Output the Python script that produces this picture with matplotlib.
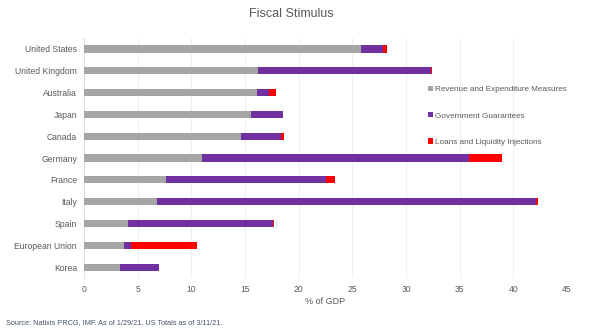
import matplotlib
matplotlib.use("Agg")
import matplotlib.pyplot as plt
import numpy as np

plt.rcParams["font.family"] = ["Liberation Sans", "DejaVu Sans"]

countries = [
    "United States", "United Kingdom", "Australia", "Japan", "Canada",
    "Germany", "France", "Italy", "Spain", "European Union", "Korea",
]
revenue = [25.8, 16.2, 16.1, 15.6, 14.6, 11.0, 7.6, 6.8, 4.1, 3.7, 3.4]
guarantees = [2.1, 16.1, 1.1, 2.9, 3.8, 24.9, 14.9, 35.3, 13.5, 0.7, 3.6]
loans = [0.3, 0.1, 0.7, 0.0, 0.2, 3.0, 0.9, 0.2, 0.1, 6.1, 0.0]

GRAY = "#A5A5A5"
PURPLE = "#7030A0"
RED = "#FF0000"
TEXT = "#595959"

fig = plt.figure(figsize=(6.0, 3.31), dpi=100)
ax = fig.add_axes([0.14, 0.16, 0.805, 0.725])

y = np.arange(len(countries))
h = 0.33
rev = np.array(revenue)
gua = np.array(guarantees)
loa = np.array(loans)
ax.barh(y, rev, height=h, color=GRAY, label="Revenue and Expenditure Measures", zorder=3)
ax.barh(y, gua, left=rev, height=h, color=PURPLE, label="Government Guarantees", zorder=3)
ax.barh(y, loa, left=rev + gua, height=h, color=RED, label="Loans and Liquidity Injections", zorder=3)

ax.set_ylim(10.5, -0.5)
ax.set_xlim(0, 45)
ax.set_xticks(range(0, 50, 5))
ax.set_yticks(y)
ax.set_yticklabels(countries)
ax.tick_params(axis="both", length=0, labelsize=6.2, colors=TEXT)
ax.tick_params(axis="y", pad=5)
ax.tick_params(axis="x", pad=5)
ax.grid(axis="x", color="#EFEFEF", linewidth=0.8, zorder=0)
for side in ("top", "right", "bottom"):
    ax.spines[side].set_visible(False)
ax.spines["left"].set_color("#E0E0E0")
ax.spines["left"].set_linewidth(0.8)
ax.set_xlabel("% of GDP", fontsize=6.5, color=TEXT, labelpad=2)

leg = ax.legend(
    loc="upper left", bbox_to_anchor=(0.705, 0.815), frameon=False,
    fontsize=5.9, labelspacing=2.3, handlelength=0.6, handleheight=0.6,
    handletextpad=0.3, borderaxespad=0,
)
for t in leg.get_texts():
    t.set_color(TEXT)

fig.text(0.485, 0.957, "Fiscal Stimulus", ha="center", va="center", fontsize=9, color=TEXT)
fig.text(0.01, 0.027, "Source: Natixis PRCG, IMF. As of 1/29/21. US Totals as of 3/11/21.",
         ha="left", va="center", fontsize=5.3, color="#44546A")

fig.savefig("out.png", dpi=100)
